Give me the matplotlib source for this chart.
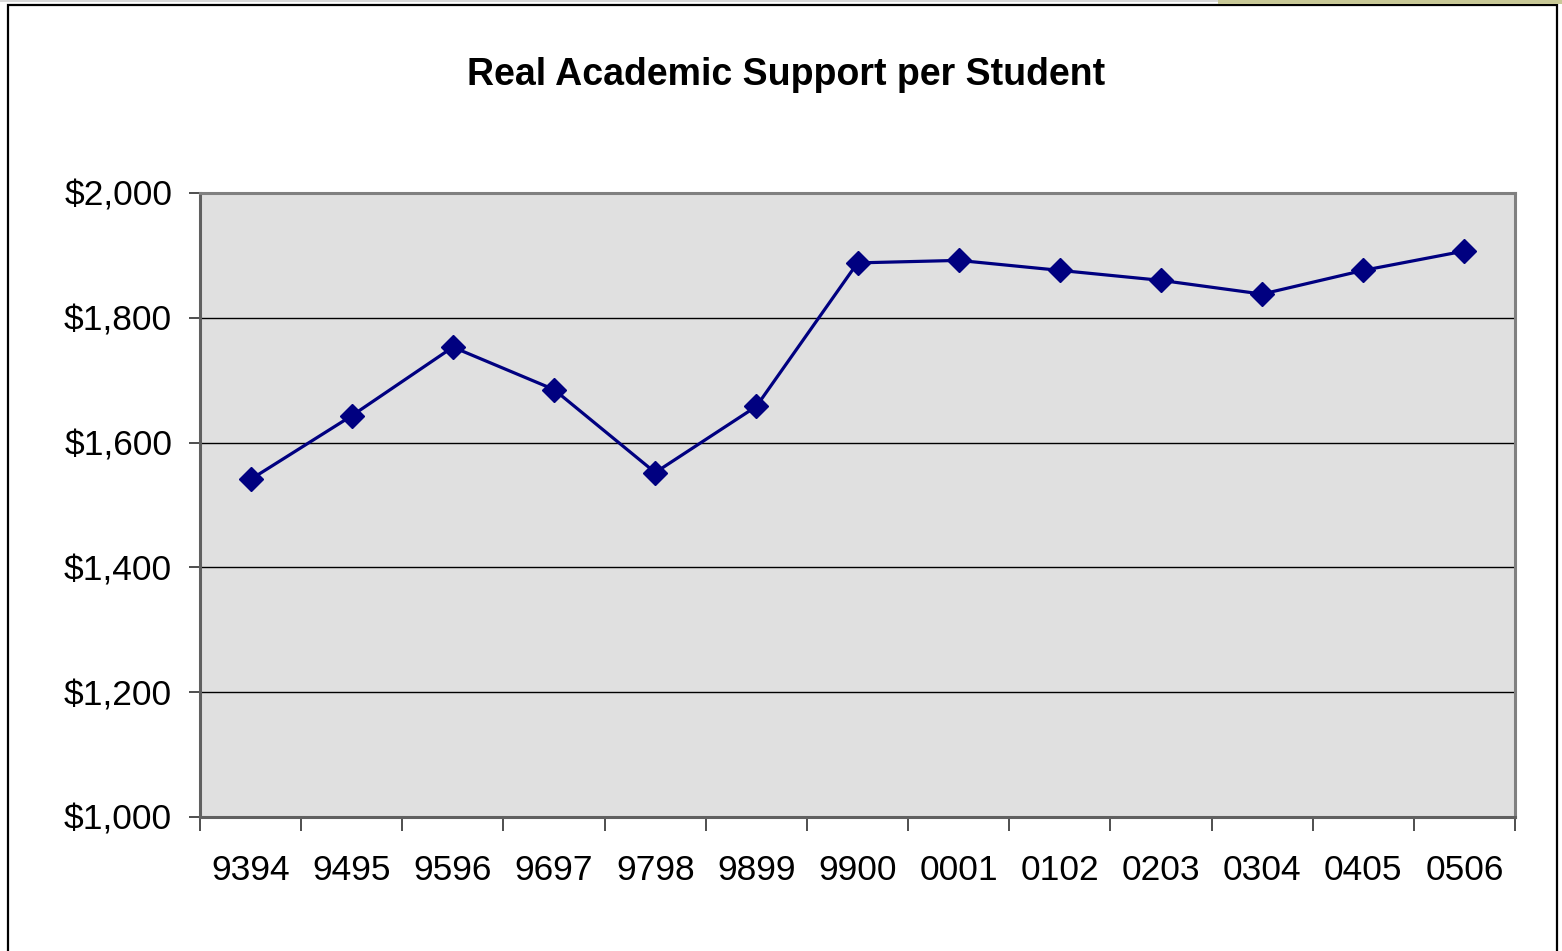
import matplotlib
matplotlib.use('Agg')
import matplotlib.pyplot as plt
import matplotlib.patches as mpatches
from matplotlib.ticker import FuncFormatter, FixedLocator

plt.rcParams['font.family'] = ['Liberation Sans', 'DejaVu Sans']

years = ["9394", "9495", "9596", "9697", "9798", "9899", "9900",
         "0001", "0102", "0203", "0304", "0405", "0506"]
support = [1541, 1643, 1753, 1685, 1552, 1658, 1888,
           1892, 1876, 1860, 1838, 1876, 1907]

fig = plt.figure(figsize=(15.62, 9.51), dpi=100)
ax = fig.add_axes([200 / 1562, 134 / 951, 1315 / 1562, 624 / 951])

x = list(range(len(years)))
ax.plot(x, support, color='#000080', linewidth=2.3, marker='D',
        markersize=12.5, markerfacecolor='#000080', markeredgecolor='#000080',
        zorder=3)

ax.set_facecolor('#e0e0e0')
ax.set_xlim(-0.5, len(years) - 0.5)
ax.set_ylim(1000, 2000)
ax.set_yticks([1000, 1200, 1400, 1600, 1800, 2000])
ax.yaxis.set_major_formatter(FuncFormatter(lambda v, p: f"${v:,.0f}"))
ax.yaxis.grid(True, color='black', linewidth=1.0)
ax.set_axisbelow(True)

# labels sit in the middle of each category, ticks mark the boundaries
ax.set_xticks(x)
ax.set_xticklabels(years)
ax.xaxis.set_minor_locator(FixedLocator([i - 0.5 for i in range(len(years) + 1)]))
ax.tick_params(axis='x', which='major', length=0, pad=27, labelsize=25.5)
ax.tick_params(axis='x', which='minor', length=10, width=1.2, color='#303030')
ax.tick_params(axis='y', length=8, width=1.2, color='#303030', pad=12, labelsize=25.5)

for side in ['left', 'right', 'top', 'bottom']:
    ax.spines[side].set_color('#808080')
    ax.spines[side].set_linewidth(2.2)
ax.spines['left'].set_color('#606060')
ax.spines['bottom'].set_color('#606060')

fig.text(786 / 1562, 1 - 75 / 951, "Real Academic Support per Student",
         ha='center', va='center', fontsize=27, fontweight='bold')

# chart frame and top strip
fig.patches.append(mpatches.Rectangle((8 / 1562, -0.05), 1549 / 1562, 1.05 - 5 / 951,
                                      transform=fig.transFigure, fill=False,
                                      edgecolor='black', linewidth=1.6))
fig.patches.append(mpatches.Rectangle((1218 / 1562, 1 - 4 / 951), 344 / 1562, 4 / 951,
                                      transform=fig.transFigure, facecolor='#c8c896',
                                      edgecolor='none'))
fig.patches.append(mpatches.Rectangle((0, 1 - 2 / 951), 1218 / 1562, 2 / 951,
                                      transform=fig.transFigure, facecolor='#d8d8d8',
                                      edgecolor='none'))

fig.savefig('out.png', dpi=100)
